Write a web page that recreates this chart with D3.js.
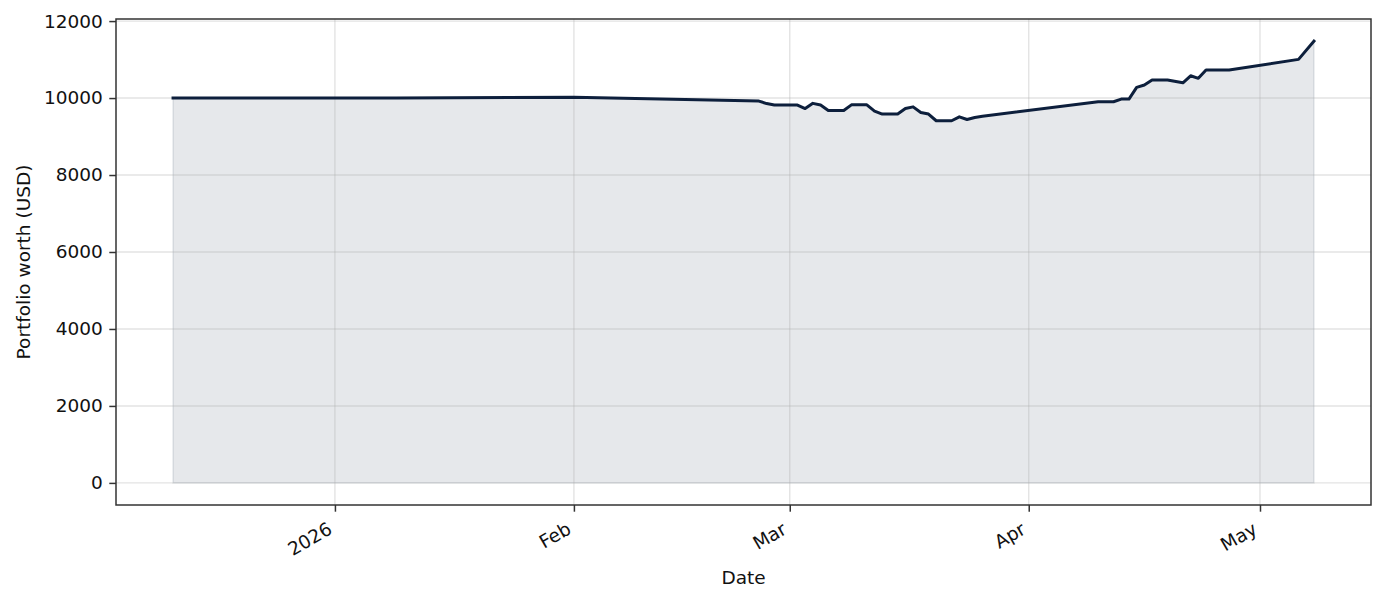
<!DOCTYPE html>
<html lang="en">
<head>
<meta charset="UTF-8">
<script src="https://d3js.org/d3.v7.min.js"></script>
<title>Portfolio worth</title>
<style>
  body { margin: 0; background: #fff; }
  svg text { font-family: "DejaVu Sans", sans-serif; fill: #111; }
</style>
</head>
<body>
<svg width="1385" height="601" id="chart"></svg>
<script>
// portfolio values
const dates = ["2025-12-11", "2026-01-09", "2026-02-01", "2026-02-25", "2026-02-26", "2026-02-27",
  "2026-03-02", "2026-03-03", "2026-03-04", "2026-03-05", "2026-03-06", "2026-03-08", "2026-03-09",
  "2026-03-11", "2026-03-12", "2026-03-13", "2026-03-15", "2026-03-16", "2026-03-17", "2026-03-18",
  "2026-03-19", "2026-03-20", "2026-03-22", "2026-03-23", "2026-03-24", "2026-03-25", "2026-03-26",
  "2026-04-10", "2026-04-12", "2026-04-13", "2026-04-14", "2026-04-15", "2026-04-16", "2026-04-17",
  "2026-04-19", "2026-04-21", "2026-04-22", "2026-04-23", "2026-04-24", "2026-04-27", "2026-05-06",
  "2026-05-08"];
const values = [10000, 10000, 10018, 9922, 9857, 9818,
  9818, 9727, 9862, 9818, 9675, 9675, 9823,
  9823, 9662, 9584, 9584, 9727, 9771, 9623,
  9584, 9410, 9410, 9512, 9442, 9494, 9525,
  9904, 9904, 9974, 9974, 10278, 10338, 10468,
  10468, 10397, 10579, 10512, 10727, 10727, 11005,
  11480];
const yTicks = [0, 2000, 4000, 6000, 8000, 10000, 12000];
const xTicks = ["2026-01-01", "2026-02-01", "2026-03-01", "2026-04-01", "2026-05-01"];
const xTickLabels = ["2026", "Feb", "Mar", "Apr", "May"];

const parse = d3.timeParse("%Y-%m-%d");
const data = dates.map((d, i) => ({ date: parse(d), value: values[i] }));

const svg = d3.select("#chart");
const mLeft = 116, mRight = 1371, mTop = 19, mBottom = 505;
const lineColor = "#0d1f3c";
const fontSize = 18.5;

// 5% margins like matplotlib
const xExt = d3.extent(data, d => d.date);
const xPad = (xExt[1] - xExt[0]) * 0.05;
const x = d3.scaleTime()
  .domain([new Date(+xExt[0] - xPad), new Date(+xExt[1] + xPad)])
  .range([mLeft, mRight]);
const yMax = d3.max(values);
const yPad = yMax * 0.05;
const y = d3.scaleLinear().domain([-yPad, yMax + yPad]).range([mBottom, mTop]);

// fill under the line
svg.append("path")
  .datum(data)
  .attr("d", d3.area().x(d => x(d.date)).y0(y(0)).y1(d => y(d.value)))
  .attr("fill", lineColor).attr("fill-opacity", 0.1)
  .attr("stroke", lineColor).attr("stroke-opacity", 0.1).attr("stroke-width", 1.5);

// grid
const grid = svg.append("g").attr("stroke", "#b0b0b0").attr("stroke-opacity", 0.35).attr("stroke-width", 1.4);
yTicks.forEach(t => {
  grid.append("line").attr("x1", mLeft).attr("x2", mRight).attr("y1", y(t)).attr("y2", y(t));
});
xTicks.forEach(t => {
  grid.append("line").attr("x1", x(parse(t))).attr("x2", x(parse(t))).attr("y1", mTop).attr("y2", mBottom);
});

// line
svg.append("path")
  .datum(data)
  .attr("d", d3.line().x(d => x(d.date)).y(d => y(d.value)))
  .attr("fill", "none").attr("stroke", lineColor).attr("stroke-width", 3)
  .attr("stroke-linejoin", "round").attr("stroke-linecap", "square");

// axes
const yAxis = svg.append("g").attr("transform", `translate(${mLeft},0)`)
  .call(d3.axisLeft(y).tickValues(yTicks).tickSize(6.7).tickPadding(6.5).tickFormat(d3.format("d")));
const xAxis = svg.append("g").attr("transform", `translate(0,${mBottom})`)
  .call(d3.axisBottom(x).tickValues(xTicks.map(parse)).tickSize(6.7).tickFormat((d, i) => xTickLabels[i]));
[yAxis, xAxis].forEach(a => {
  a.select(".domain").remove();
  a.selectAll(".tick line").attr("stroke", "#333").attr("stroke-width", 1.5);
  a.selectAll("text").attr("font-size", fontSize).attr("fill", "#111")
    .attr("font-family", "DejaVu Sans, sans-serif");
});

// rotate x labels 30deg, right edge of rotated box at the tick
xAxis.selectAll(".tick text").each(function() {
  const t = d3.select(this);
  t.attr("y", 0).attr("dy", 0).attr("text-anchor", "end").attr("transform", "rotate(-30)");
  const b = this.getBBox();
  const a = -30 * Math.PI / 180;
  const pts = [[b.x, b.y], [b.x + b.width, b.y], [b.x, b.y + b.height], [b.x + b.width, b.y + b.height]]
    .map(([px, py]) => [px * Math.cos(a) - py * Math.sin(a), px * Math.sin(a) + py * Math.cos(a)]);
  const maxX = d3.max(pts, p => p[0]);
  const minY = d3.min(pts, p => p[1]);
  t.attr("transform", `translate(${-maxX},${13 - minY}) rotate(-30)`);
});

// frame
svg.append("rect")
  .attr("x", mLeft).attr("y", mTop).attr("width", mRight - mLeft).attr("height", mBottom - mTop)
  .attr("fill", "none").attr("stroke", "#333").attr("stroke-width", 1.5);

// axis titles
svg.append("text")
  .attr("x", (mLeft + mRight) / 2).attr("y", 584)
  .attr("text-anchor", "middle").attr("font-size", fontSize)
  .text("Date");
svg.append("text")
  .attr("transform", `translate(29.5,${(mTop + mBottom) / 2}) rotate(-90)`)
  .attr("text-anchor", "middle").attr("font-size", fontSize)
  .text("Portfolio worth (USD)");
</script>
</body>
</html>
